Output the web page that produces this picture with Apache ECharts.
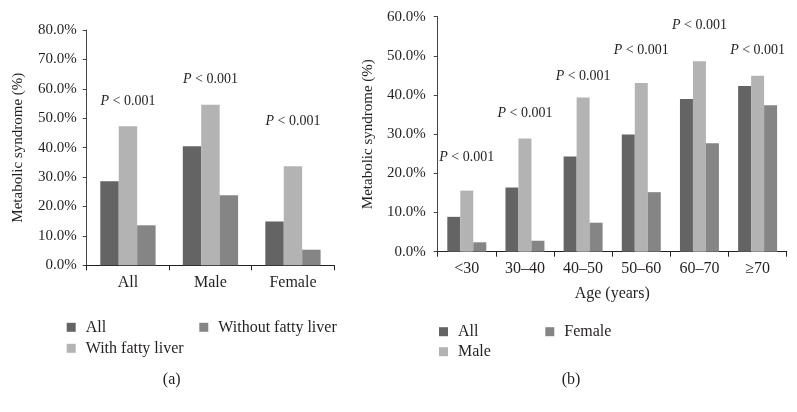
<!DOCTYPE html>
<html>
<head>
<meta charset="utf-8">
<script src="https://cdn.jsdelivr.net/npm/echarts@6/dist/echarts.min.js"></script>
<style>
html,body{margin:0;padding:0;background:#fff;}
#c{width:797px;height:412px;}
</style>
</head>
<body>
<div id="c"></div>
<script>
// ---- Data: panel (a) ----
var catsA = ['All', 'Male', 'Female'];
var allA = [28.6, 40.5, 14.9];
var withFattyLiver = [47.3, 54.6, 33.7];
var withoutFattyLiver = [13.6, 23.8, 5.3];
var pLabelYA = [55.8, 63.3, 49.0];
var yTicksA = { min: 0, max: 80, interval: 10 };

// ---- Data: panel (b) ----
var catsB = ['<30', '30–40', '40–50', '50–60', '60–70', '≥70'];
var allB = [8.9, 16.4, 24.3, 29.9, 39.0, 42.3];
var maleB = [15.6, 28.9, 39.4, 43.1, 48.6, 44.9];
var femaleB = [2.4, 2.8, 7.4, 15.2, 27.7, 37.4];
var pLabelYB = [24.1, 35.3, 44.9, 51.5, 57.7, 51.5];
var yTicksB = { min: 0, max: 60, interval: 10 };

var pText = '{i|P} < 0.001';

var FONT = 'Liberation Serif';
var C_DARK = '#646464', C_LIGHT = '#b3b3b3', C_MID = '#858585';
var TXT = '#231f20';

function yAxis(grid, t, gap, margin) {
  return {
    type: 'value', gridIndex: grid, min: t.min, max: t.max, interval: t.interval,
    name: 'Metabolic syndrome (%)', nameLocation: 'middle', nameGap: gap,
    nameTextStyle: { fontFamily: FONT, fontSize: 15, color: TXT },
    axisLine: { show: true, lineStyle: { color: '#444', width: 1 } },
    axisTick: { show: true, length: 4, lineStyle: { color: '#444' } },
    splitLine: { show: false },
    axisLabel: { fontFamily: FONT, fontSize: 15, color: TXT, margin: margin,
      formatter: function (v) { return v.toFixed(1) + '%'; } }
  };
}
function xAxis(grid, cats, name) {
  var a = {
    type: 'category', gridIndex: grid, data: cats,
    axisLine: { show: true, lineStyle: { color: '#222', width: 1 } },
    axisTick: { show: true, length: 5, lineStyle: { color: '#222' } },
    axisLabel: { fontFamily: FONT, fontSize: 16, color: TXT, margin: 9 }
  };
  if (name) {
    a.name = name; a.nameLocation = 'middle'; a.nameGap = 34;
    a.nameTextStyle = { fontFamily: FONT, fontSize: 16, color: TXT };
  }
  return a;
}
function bar(name, data, color, idx) {
  return { type: 'bar', name: name, data: data, xAxisIndex: idx, yAxisIndex: idx,
    barGap: '0%', barCategoryGap: '33%', itemStyle: { color: color },
    emphasis: { disabled: true } };
}
function pSeries(data, idx) {
  return { type: 'scatter', data: data, xAxisIndex: idx, yAxisIndex: idx,
    symbolSize: 0, silent: true, itemStyle: { opacity: 1, color: TXT },
    emphasis: { disabled: true },
    label: { show: true, position: 'inside', formatter: pText,
      fontFamily: FONT, fontSize: 14, color: TXT, opacity: 1,
      rich: { i: { fontFamily: FONT, fontSize: 14, fontStyle: 'italic', color: TXT } } } };
}
function legend(name, left, cy) {
  return { data: [name], left: left, top: cy - 8, padding: 0, icon: 'rect',
    itemWidth: 9, itemHeight: 9, selectedMode: false,
    textStyle: { fontFamily: FONT, fontSize: 16, color: TXT, lineHeight: 16, padding: [0, 0, 0, 5] } };
}

var chart = echarts.init(document.getElementById('c'), null, { renderer: 'canvas' });
chart.setOption({
  backgroundColor: '#fff',
  animation: false,
  grid: [
    { left: 86.7, top: 30, width: 247.5, height: 235.3 },
    { left: 437.7, top: 16.7, width: 349, height: 235 }
  ],
  xAxis: [xAxis(0, catsA), xAxis(1, catsB, 'Age (years)')],
  yAxis: [yAxis(0, yTicksA, 61, 10), yAxis(1, yTicksB, 62, 12)],
  legend: [
    legend('All', 66.7, 327.3),
    legend('Without fatty liver', 199.3, 327.3),
    legend('With fatty liver', 66.7, 348.3),
    legend('All', 439, 331.7),
    legend('Female', 545.3, 331.7),
    legend('Male', 439, 351.7)
  ],
  graphic: [
    { type: 'text', x: 171.7, y: 380, style: { text: '(a)', fontFamily: FONT, fontSize: 16, fill: TXT, textAlign: 'center', textVerticalAlign: 'middle' } },
    { type: 'text', x: 571, y: 379.3, style: { text: '(b)', fontFamily: FONT, fontSize: 16, fill: TXT, textAlign: 'center', textVerticalAlign: 'middle' } }
  ],
  series: [
    bar('All', allA, C_DARK, 0),
    bar('With fatty liver', withFattyLiver, C_LIGHT, 0),
    bar('Without fatty liver', withoutFattyLiver, C_MID, 0),
    pSeries(pLabelYA, 0),
    bar('All', allB, C_DARK, 1),
    bar('Male', maleB, C_LIGHT, 1),
    bar('Female', femaleB, C_MID, 1),
    pSeries(pLabelYB, 1)
  ]
});
</script>
</body>
</html>
